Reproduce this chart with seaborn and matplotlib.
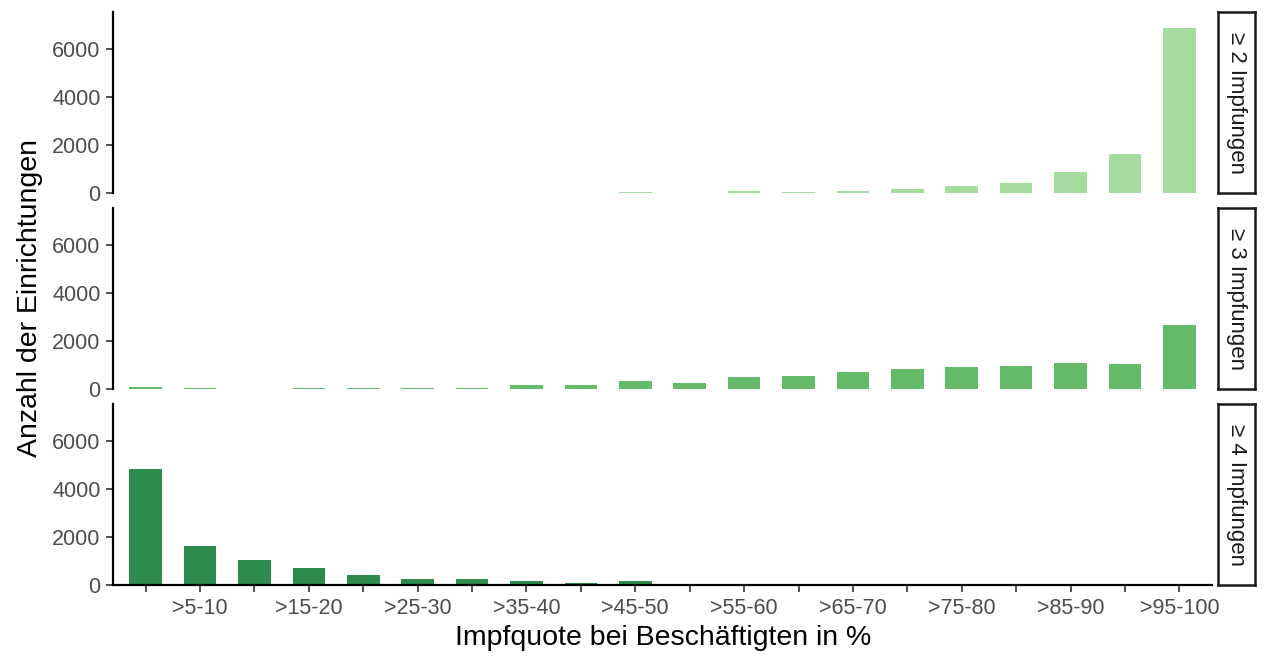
import numpy as np
import pandas as pd
import matplotlib
matplotlib.use("Agg")
import matplotlib.pyplot as plt
import seaborn as sns

categories = ["0-5", ">5-10", ">10-15", ">15-20", ">20-25", ">25-30", ">30-35",
              ">35-40", ">40-45", ">45-50", ">50-55", ">55-60", ">60-65", ">65-70",
              ">70-75", ">75-80", ">80-85", ">85-90", ">90-95", ">95-100"]
facets = ["≥ 2 Impfungen", "≥ 3 Impfungen", "≥ 4 Impfungen"]
vals_2 = [3, 3, 3, 3, 4, 5, 8, 20, 12, 30, 10, 80, 60, 100, 180, 280, 420, 870, 1610, 6850]
vals_3 = [80, 30, 20, 40, 50, 50, 60, 150, 170, 330, 270, 490, 530, 710, 840, 920, 950, 1070, 1050, 2680]
vals_4 = [4830, 1640, 1050, 700, 430, 260, 230, 180, 80, 160, 20, 50, 10, 20, 15, 5, 5, 5, 5, 60]
colors = ["#a6dba0", "#66bb6a", "#2e8b4e"]
y_ticks = [0, 2000, 4000, 6000]
y_max = 7535

sns.set_style("white")
plt.rcParams["font.family"] = ["Liberation Sans", "DejaVu Sans"]

W, H = 1265, 660
fig = plt.figure(figsize=(W / 100, H / 100), dpi=100)

def fx(px):
    return px / W

def fy(px):
    return 1 - px / H

panel_rows = [(12, 193), (208, 389), (404, 585)]
left_px, right_px = 113, 1212
strip_l, strip_r = 1218, 1255
tick_color = "#4d4d4d"

series = [vals_2, vals_3, vals_4]
for i, (vals, lab, col, (t, b)) in enumerate(zip(series, facets, colors, panel_rows)):
    ax = fig.add_axes([fx(left_px), fy(b), fx(right_px - left_px), (b - t) / H])
    df = pd.DataFrame({"cat": categories, "n": vals})
    sns.barplot(data=df, x="cat", y="n", order=categories, color=col,
                saturation=1, width=0.6, ax=ax, linewidth=0, edgecolor="none")
    ax.set_xlim(-0.6, 19.6)
    ax.set_ylim(0, y_max)
    ax.set_yticks(y_ticks)
    ax.set_yticklabels([str(v) for v in y_ticks], fontsize=15.5, color=tick_color)
    ax.set_xlabel("")
    ax.set_ylabel("")
    for s in ["top", "right"]:
        ax.spines[s].set_visible(False)
    ax.spines["left"].set_color("black")
    ax.spines["left"].set_linewidth(1.6)
    ax.tick_params(axis="y", length=5, width=1.2, color="#333333", pad=4, left=True)
    if i < 2:
        ax.spines["bottom"].set_visible(False)
        ax.set_xticks([])
    else:
        ax.spines["bottom"].set_color("black")
        ax.spines["bottom"].set_linewidth(1.6)
        ax.set_xticks(range(len(categories)))
        ax.set_xticklabels([c if k % 2 == 1 else "" for k, c in enumerate(categories)],
                           fontsize=15.5, color=tick_color)
        ax.tick_params(axis="x", length=5, width=1.2, color="#333333", pad=4, bottom=True)
    # strip
    sax = fig.add_axes([fx(strip_l), fy(b), fx(strip_r - strip_l), (b - t) / H])
    sax.set_xticks([])
    sax.set_yticks([])
    sax.set_facecolor("white")
    for s in sax.spines.values():
        s.set_visible(True)
        s.set_color("#1a1a1a")
        s.set_linewidth(1.8)
    sax.text(0.5, 0.5, lab, rotation=-90, ha="center", va="center",
             fontsize=16, color="#1a1a1a", transform=sax.transAxes)

fig.text(fx(30), fy(298), "Anzahl der Einrichtungen", rotation=90,
         ha="center", va="center", fontsize=20.5, color="black")
fig.text(fx(663), fy(638), "Impfquote bei Beschäftigten in %",
         ha="center", va="center", fontsize=20.5, color="black")

fig.savefig("out.png", dpi=100, facecolor="white")
